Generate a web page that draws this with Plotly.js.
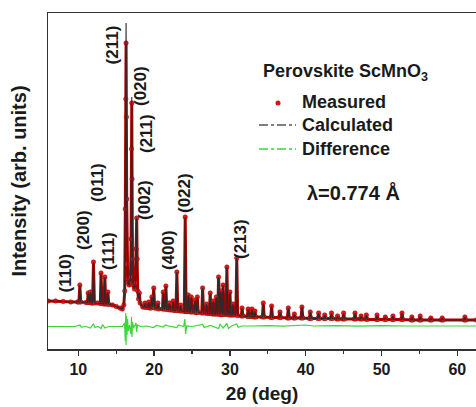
<!DOCTYPE html>
<html><head><meta charset="utf-8">
<script src="https://cdn.plot.ly/plotly-3.0.1.min.js"></script>
<style>html,body{margin:0;padding:0;background:#fff;}#chart{width:476px;height:407px;}</style>
</head><body><div id="chart"></div>
<script>
// 2θ grid (deg) of the plotted profile points
const tt = [
 6.0, 7.0, 8.0, 9.0, 9.9, 10.08, 10.2, 10.32, 11.0, 11.2, 11.3, 11.42, 11.5, 11.6, 11.72, 11.88,
 12.0, 12.12, 12.5, 12.9, 13.0, 13.12, 13.38, 13.5, 13.62, 13.78, 13.9, 14.02, 14.5, 15.0, 15.5, 15.8,
 16.0, 16.12, 16.2, 16.26, 16.3, 16.34, 16.38, 16.44, 16.52, 16.6, 16.7, 16.8, 16.9, 16.96, 17.01, 17.05,
 17.09, 17.14, 17.22, 17.4, 17.52, 17.62, 17.7, 17.76, 17.83, 17.95, 18.05, 18.15, 18.5, 18.7, 18.8, 18.92,
 19.2, 19.3, 19.42, 19.6, 19.7, 19.8, 19.95, 20.08, 20.4, 20.5, 20.62, 21.1, 21.2, 21.32, 21.42, 21.55,
 21.67, 21.9, 22.0, 22.12, 22.4, 22.5, 22.62, 22.88, 23.0, 23.12, 23.4, 23.5, 23.62, 23.98, 24.1, 24.22,
 24.4, 24.5, 24.62, 24.78, 24.9, 25.02, 25.3, 25.4, 25.52, 25.6, 25.7, 25.82, 26.28, 26.4, 26.52, 26.8,
 26.9, 27.02, 27.28, 27.4, 27.52, 27.7, 27.8, 27.92, 28.1, 28.2, 28.32, 28.4, 28.5, 28.62, 28.7, 28.8,
 28.92, 29.0, 29.1, 29.22, 29.48, 29.6, 29.72, 29.88, 30.0, 30.12, 30.3, 30.4, 30.52, 30.78, 30.9, 31.02,
 31.5, 31.6, 31.72, 32.3, 32.4, 32.52, 32.8, 32.9, 33.02, 33.2, 33.3, 33.42, 34.28, 34.4, 34.52, 35.38,
 35.5, 35.62, 36.48, 36.6, 36.72, 37.58, 37.7, 37.82, 38.4, 38.5, 38.62, 39.38, 39.5, 39.62, 40.48, 40.6,
 40.72, 41.58, 41.7, 41.82, 42.4, 42.5, 42.62, 43.3, 43.4, 43.52, 44.1, 44.2, 44.32, 44.9, 45.0, 45.12,
 46.4, 46.5, 46.62, 47.2, 47.3, 47.42, 47.9, 48.0, 48.12, 49.3, 49.4, 49.52, 50.4, 50.5, 50.62, 51.4,
 51.5, 51.62, 52.6, 52.7, 52.82, 53.9, 54.0, 54.12, 55.0, 55.1, 55.22, 56.4, 56.5, 56.62, 57.9, 58.0,
 58.12, 60.9, 61.0, 61.12, 62.5
];
// Measured intensity (arb. units)
const measured = [
 48, 48, 47.5, 47, 47, 47, 64, 47, 46.5, 46.5, 56, 46.5, 47, 57, 46, 46,
 87, 46, 46, 45.5, 76, 45.5, 45, 72, 45, 45, 57, 44.5, 44, 42.5, 41, 40,
 44, 58, 140, 250, 306, 232, 150, 85, 70, 66, 64, 66, 72, 110, 200, 246,
 170, 90, 64, 60, 66, 100, 131, 90, 58, 50, 56, 46, 42, 42, 46, 41.5,
 41.5, 47, 41, 41, 52, 42, 61, 41, 40.5, 46, 40, 40, 57, 40, 40, 63,
 39.5, 39.5, 46, 39, 39, 48, 38.5, 38.5, 77, 38.5, 38, 44, 38, 37.5, 132, 37.5,
 37.5, 54, 37.5, 37, 52, 37, 37, 49, 36.5, 36.5, 52, 36.5, 36, 61, 36, 36,
 45, 35.5, 35.5, 56, 35.5, 35, 48, 35, 35, 52, 35, 35, 72, 35, 34.5, 58,
 34.5, 34.5, 64, 34.5, 34.5, 82, 34.5, 34, 57, 34, 34, 45, 34, 34, 91, 33.5,
 33, 41, 33, 32.5, 40, 32.5, 32.5, 40, 32.5, 32, 38, 32, 32, 46, 32, 31.5,
 43, 31.5, 31.5, 37, 31.5, 31, 41, 31, 31, 35, 31, 31, 42, 31, 30.5, 37,
 30.5, 30.5, 36, 30.5, 30.5, 34, 30.5, 30.5, 36, 30.5, 30, 33, 30, 30, 36, 30,
 30, 36, 30, 30, 33, 30, 30, 34, 29.5, 29.5, 34, 29.5, 29.5, 32, 29.5, 29.5,
 33, 29.5, 29.5, 36, 29.5, 29, 32, 29, 29, 33, 29, 29, 31, 29, 29, 31,
 29, 29, 32, 29, 29
];
// Calculated intensity (arb. units)
const calculated = [
 48, 48, 47.5, 47, 47, 47, 64, 47, 46.5, 46.5, 56, 46.5, 47, 57, 46, 46,
 87, 46, 46, 45.5, 76, 45.5, 45, 72, 45, 45, 57, 44.5, 44, 42.5, 41, 40,
 44, 60, 148, 262, 326, 238, 152, 86, 70, 66, 64, 66, 72, 112, 206, 252,
 170, 90, 64, 60, 66, 100, 131, 90, 58, 50, 56, 46, 42, 42, 46, 41.5,
 41.5, 47, 41, 41, 52, 42, 61, 41, 40.5, 46, 40, 40, 57, 40, 40, 63,
 39.5, 39.5, 46, 39, 39, 48, 38.5, 38.5, 77, 38.5, 38, 44, 38, 37.5, 132, 37.5,
 37.5, 54, 37.5, 37, 52, 37, 37, 49, 36.5, 36.5, 52, 36.5, 36, 61, 36, 36,
 45, 35.5, 35.5, 56, 35.5, 35, 48, 35, 35, 52, 35, 35, 72, 35, 34.5, 58,
 34.5, 34.5, 64, 34.5, 34.5, 82, 34.5, 34, 57, 34, 34, 45, 34, 34, 91, 33.5,
 33, 41, 33, 32.5, 40, 32.5, 32.5, 40, 32.5, 32, 38, 32, 32, 46, 32, 31.5,
 43, 31.5, 31.5, 37, 31.5, 31, 41, 31, 31, 35, 31, 31, 42, 31, 30.5, 37,
 30.5, 30.5, 36, 30.5, 30.5, 34, 30.5, 30.5, 36, 30.5, 30, 33, 30, 30, 36, 30,
 30, 36, 30, 30, 33, 30, 30, 34, 29.5, 29.5, 34, 29.5, 29.5, 32, 29.5, 29.5,
 33, 29.5, 29.5, 36, 29.5, 29, 32, 29, 29, 33, 29, 29, 31, 29, 29, 31,
 29, 29, 32, 29, 29
];
// Difference curve (offset below the pattern)
const diffX = [6, 8, 9.5, 10.2, 10.4, 11, 11.6, 12.0, 12.2, 12.6, 13.0, 13.2, 13.5, 14, 15, 15.8,
 16.1, 16.2, 16.25, 16.3, 16.35, 16.42, 16.5, 16.6, 16.75, 16.95, 17.02, 17.08, 17.15, 17.3, 17.6, 17.7,
 17.8, 18.2, 19, 19.9, 20.3, 21.2, 21.5, 22, 23.0, 23.2, 23.9, 24.05, 24.15, 24.3, 25, 26.4,
 26.6, 27.4, 28.5, 28.7, 29.1, 29.6, 29.8, 30.2, 30.9, 31.1, 31.5, 33, 35, 37,
 39, 40, 41, 44, 47, 50, 53, 56, 59, 62.5];
const diffY = [22.5, 22.8, 22.3, 24, 22, 22.5, 21, 25, 21.5, 22.5, 20.5, 24.5, 21, 22.5, 22.7, 22.5,
 26, 8, 36, 4, 33, 14, 30, 18, 24, 15, 32, 12, 27, 21, 26, 17,
 24, 22.5, 23, 21.5, 23.5, 22, 24, 22.8, 21.5, 24, 22.5, 30, 15, 23, 22.5, 24.5,
 21.5, 23.5, 20.5, 25, 21, 25.5, 20.5, 23, 25, 21.5, 23, 23, 23.3, 22.8,
 23.5, 24, 23, 23.3, 22.8, 23.4, 23, 23.2, 22.9, 23];
// Reflection labels
const hklText = ['(110)', '(200)', '(011)', '(111)', '(211)', '(020)', '(211)', '(002)', '(400)', '(022)', '(213)'];
const hklX = [8.18, 10.62, 12.46, 13.92, 14.5, 18.14, 18.93, 18.66, 21.83, 23.94, 31.33];
const hklY = [76, 119, 167, 98, 304, 263, 215, 149, 99, 156, 110];

const FONT = 'Liberation Sans, Arial, Helvetica, sans-serif';
const L = 48, R = 476, T = 13, B = 349;
const px = v => (v - L) / (R - L);
const py = v => (B - v) / (B - T);

const traces = [
  {x: tt, y: measured, type: 'scatter', mode: 'lines+markers', name: 'Measured',
   line: {color: '#b00000', width: 3}, marker: {color: '#e81818', size: 4.5, line: {color: '#900000', width: 0.5}},
   showlegend: false},
  {x: tt, y: calculated, type: 'scatter', mode: 'lines', name: 'Calculated',
   line: {color: '#2a2a2a', width: 1.1}, showlegend: false},
  {x: diffX, y: diffY, type: 'scatter', mode: 'lines', name: 'Difference',
   line: {color: '#3ad63a', width: 1.2}, showlegend: false}
];

const ann = hklText.map((t, i) => ({
  x: hklX[i], y: hklY[i], xref: 'x', yref: 'y', text: '<b>' + t + '</b>', showarrow: false,
  textangle: -90, font: {family: FONT, size: 17, color: '#1a1a1a'}, xanchor: 'center', yanchor: 'middle'
}));
const legFont = {family: FONT, size: 18, color: '#1a1a1a'};
ann.push(
  {xref: 'paper', yref: 'paper', x: px(261), y: py(72), xanchor: 'left', yanchor: 'middle', showarrow: false,
   text: '<b>Perovskite ScMnO<sub>3</sub></b>', font: legFont},
  {xref: 'paper', yref: 'paper', x: px(300), y: py(102), xanchor: 'left', yanchor: 'middle', showarrow: false,
   text: '<b>Measured</b>', font: legFont},
  {xref: 'paper', yref: 'paper', x: px(300), y: py(125), xanchor: 'left', yanchor: 'middle', showarrow: false,
   text: '<b>Calculated</b>', font: legFont},
  {xref: 'paper', yref: 'paper', x: px(300), y: py(149), xanchor: 'left', yanchor: 'middle', showarrow: false,
   text: '<b>Difference</b>', font: legFont},
  {xref: 'paper', yref: 'paper', x: px(305), y: py(192), xanchor: 'left', yanchor: 'middle', showarrow: false,
   text: '<b>λ=0.774 Å</b>', font: {family: FONT, size: 20, color: '#1a1a1a'}}
);

const shapes = [
  {type: 'circle', xref: 'paper', yref: 'paper', xsizemode: 'pixel', ysizemode: 'pixel',
   xanchor: px(278), yanchor: py(103), x0: -2.5, x1: 2.5, y0: -2.5, y1: 2.5,
   fillcolor: '#e01010', line: {width: 0}},
  {type: 'line', xref: 'paper', yref: 'paper', x0: px(259), x1: px(296), y0: py(125), y1: py(125),
   line: {color: '#555', width: 1.3, dash: 'dashdot'}},
  {type: 'line', xref: 'paper', yref: 'paper', x0: px(259), x1: px(296), y0: py(149), y1: py(149),
   line: {color: '#3ad63a', width: 1.3, dash: 'dashdot'}}
];

const layout = {
  width: 476, height: 407,
  margin: {l: L, r: 476 - R, t: T, b: 407 - B, pad: 0},
  paper_bgcolor: '#fff', plot_bgcolor: '#fff',
  showlegend: false,
  font: {family: FONT, color: '#1a1a1a'},
  xaxis: {
    range: [6.0, 62.46], showgrid: false, zeroline: false,
    showline: true, linecolor: '#333', linewidth: 1.5, mirror: true,
    ticks: 'outside', ticklen: 5, tickwidth: 1.5, tickcolor: '#333',
    tickmode: 'linear', tick0: 10, dtick: 10,
    minor: {ticks: 'outside', ticklen: 3, tickwidth: 1.2, tickcolor: '#333', dtick: 5, tick0: 5, showgrid: false},
    tickfont: {family: FONT, size: 16, color: '#1a1a1a', weight: 'bold'},
    title: {text: '<b>2θ (deg)</b>', font: {family: FONT, size: 19, color: '#1a1a1a'}, standoff: 10}
  },
  yaxis: {
    range: [0, 336], showgrid: false, zeroline: false,
    showline: true, linecolor: '#333', linewidth: 1.5, mirror: false,
    ticks: '', showticklabels: false,
    title: {text: '<b>Intensity (arb. units)</b>', font: {family: FONT, size: 20, color: '#1a1a1a'}, standoff: 14}
  },
  annotations: ann,
  shapes: shapes
};

Plotly.newPlot('chart', traces, layout, {staticPlot: true, displayModeBar: false});
</script>
</body></html>
